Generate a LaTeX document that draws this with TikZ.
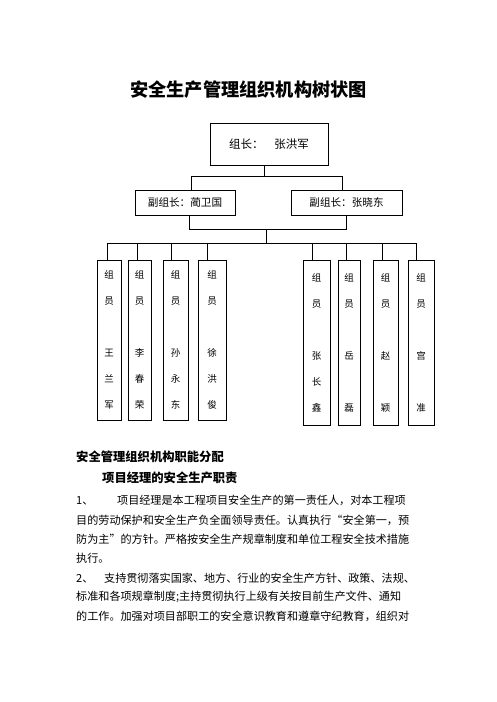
\documentclass[tikz,border=0pt]{standalone}
\usepackage{fontspec}
\setmainfont{Noto Sans CJK SC}
\XeTeXlinebreaklocale "zh"
\XeTeXlinebreakskip=0pt plus 3pt
\begin{document}
\begin{tikzpicture}[x=1pt,y=-1pt,
  box/.style={draw, line width=0.8pt, inner sep=0pt},
  member/.style={box, align=center, font=\fontsize{9.5}{26}\selectfont},
  leftm/.style={member, minimum height=160pt},
  rightm/.style={member, minimum height=165pt},
  conn/.style={line width=0.8pt},
  headline/.style={anchor=west, inner sep=0pt, font=\bfseries\fontsize{12.3}{14}\selectfont},
  bodyline/.style={anchor=west, inner sep=0pt, font=\fontsize{11.1}{13}\selectfont}]
\useasboundingbox (0,0) rectangle (496,702);
\fill[white] (0,0) rectangle (496,702);

% title
\node[font=\bfseries\fontsize{18.2}{20}\selectfont] (title) at (248.5,90) {安全生产管理组织机构树状图};

% leader and deputies
\node[box, minimum width=118pt, minimum height=42pt, font=\fontsize{11.5}{13}\selectfont] (top) at (269,144) {组长：\hspace{11pt}张洪军};
\node[box, minimum width=100pt, minimum height=25pt, font=\fontsize{10.6}{12}\selectfont] (d1) at (185,202.5) {副组长：蔺卫国};
\node[box, minimum width=111pt, minimum height=25pt, font=\fontsize{10.6}{12}\selectfont] (d2) at (346.5,202.5) {副组长：张晓东};

% members
\node[leftm, minimum width=24pt] (m1) at (109,340) {组\\员\\~\\王\\兰\\军};
\node[leftm, minimum width=23pt] (m2) at (139.5,340) {组\\员\\~\\李\\春\\荣};
\node[leftm, minimum width=25pt] (m3) at (175.5,340) {组\\员\\~\\孙\\永\\东};
\node[leftm, minimum width=28pt] (m4) at (212,340) {组\\员\\~\\徐\\洪\\俊};
\node[rightm, minimum width=27pt] (m5) at (316.5,342.5) {组\\员\\~\\张\\长\\鑫};
\node[rightm, minimum width=22pt] (m6) at (349,342.5) {组\\员\\~\\岳\\~\\磊};
\node[rightm, minimum width=25pt] (m7) at (385.5,342.5) {组\\员\\~\\赵\\~\\颖};
\node[rightm, minimum width=26pt] (m8) at (421,342.5) {组\\员\\~\\宫\\~\\准};

% connectors
\draw[conn] ([xshift=-5pt]top.south) -- ++(0,12);
\draw[conn] ([xshift=6pt]d1.north) -- ++(0,-13) -| ([xshift=-4.5pt]d2.north);
\draw[conn] ([xshift=4pt]d1.south) -- ++(0,14) -| ([xshift=0.2pt]d2.south);
\coordinate (j2) at (266,229);
\coordinate (j3) at (266,244);
\draw[conn] (j2) -- (j3);
\draw[conn] ([xshift=-2pt]m1.north) -- ++(0,-16) -| ([xshift=-5pt]m8.north);
\draw[conn] ([xshift=-2.5pt]m2.north) -- ++(0,-16);
\draw[conn] ([xshift=-4.5pt]m3.north) -- ++(0,-16);
\draw[conn] ([xshift=-5pt]m4.north) -- ++(0,-16);
\draw[conn] ([xshift=-4.5pt]m5.north) -- ++(0,-16);
\draw[conn] ([xshift=-3pt]m6.north) -- ++(0,-16);
\draw[conn] ([xshift=-3.5pt]m7.north) -- ++(0,-16);

% text
\node[headline] (h1) at (76,457) {安全管理组织机构职能分配};
\node[headline] (h2) at (102,478) {项目经理的安全生产职责};
\node[bodyline] (l1) at (76,500) {\makebox[41pt][l]{1、}\hbox to 303pt{项目经理是本工程项目安全生产的第一责任人，对本工程项}};
\node[bodyline] (l2) at (76,520) {\hbox to 344pt{目的劳动保护和安全生产负全面领导责任。认真执行“安全第一，预}};
\node[bodyline] (l3) at (76,539.5) {\hbox to 344pt{防为主”的方针。严格按安全生产规章制度和单位工程安全技术措施}};
\node[bodyline] (l4) at (76,558.5) {执行。};
\node[bodyline] (l5) at (76,578) {\makebox[28pt][l]{2、}\hbox to 316pt{支持贯彻落实国家、地方、行业的安全生产方针、政策、法规、}};
\node[bodyline] (l6) at (76,597) {\hbox to 344pt{标准和各项规章制度;主持贯彻执行上级有关按目前生产文件、通知}};
\node[bodyline] (l7) at (76,616) {\hbox to 344pt{的工作。加强对项目部职工的安全意识教育和遵章守纪教育，组织对}};
\end{tikzpicture}
\end{document}
